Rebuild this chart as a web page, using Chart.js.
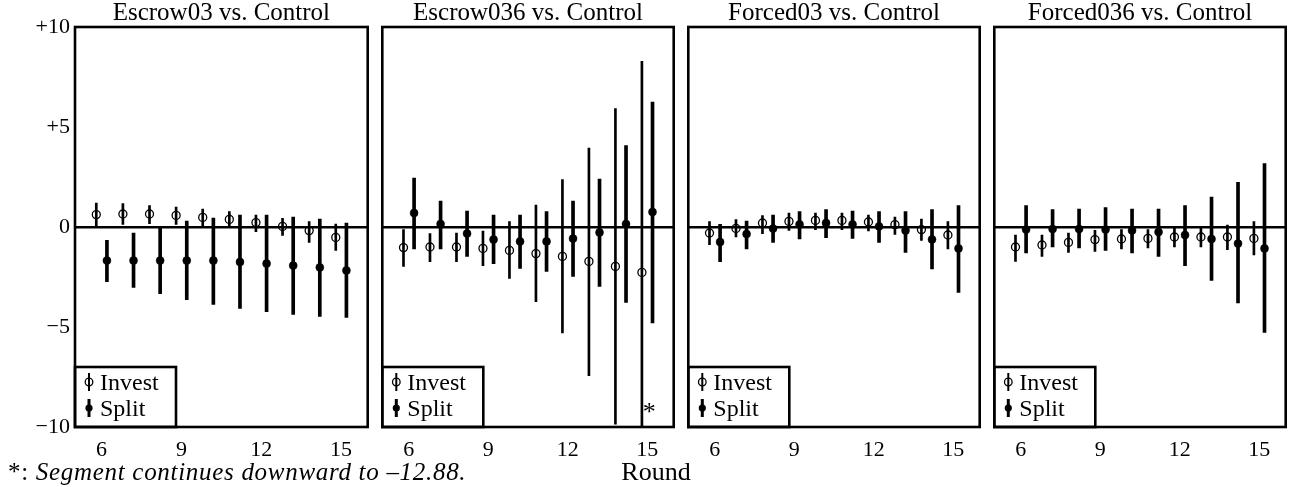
<!DOCTYPE html>
<html>
<head>
<meta charset="utf-8">
<script src="https://cdn.jsdelivr.net/npm/chart.js@4.4.0/dist/chart.umd.min.js"></script>
<style>
  body { margin: 0; background: #fff; }
  #wrap { position: relative; width: 1293px; height: 487px; overflow: hidden; font-family: 'Liberation Serif', serif; color: #000; }
  #wrap canvas { position: absolute; top: 0; }
  #footnote { position: absolute; left: 8px; top: 458px; font-size: 25px; letter-spacing: 0.7px; white-space: nowrap; }
  #xlabel { position: absolute; left: 0; width: 1312px; text-align: center; top: 457px; font-size: 26px; }
</style>
</head>
<body>
<div id="wrap">
  <canvas id="p0" width="373" height="460"></canvas>
  <canvas id="p1" width="302" height="460"></canvas>
  <canvas id="p2" width="302" height="460"></canvas>
  <canvas id="p3" width="302" height="460"></canvas>
  <div id="footnote">*: <i>Segment continues downward to –12.88.</i></div>
  <div id="xlabel">Round</div>
</div>
<script>
// rounds and labels
const rounds = [6, 7, 8, 9, 10, 11, 12, 13, 14, 15];
const xTicks = [6, 9, 12, 15];
const seriesNames = ['Invest', 'Split'];
const panelTitles = ['Escrow03 vs. Control', 'Escrow036 vs. Control', 'Forced03 vs. Control', 'Forced036 vs. Control'];

// Escrow03 vs. Control
const escrow03InvestMean = [0.62, 0.65, 0.65, 0.58, 0.48, 0.38, 0.22, 0.03, -0.18, -0.52];
const escrow03InvestLow  = [0.07, 0.13, 0.17, 0.13, 0.0, 0.0, -0.23, -0.42, -0.77, -1.17];
const escrow03InvestHigh = [1.2, 1.17, 1.07, 1.0, 0.9, 0.77, 0.6, 0.43, 0.27, 0.15];
const escrow03SplitMean  = [-1.68, -1.68, -1.68, -1.68, -1.68, -1.75, -1.83, -1.93, -2.02, -2.17];
const escrow03SplitLow   = [-2.73, -3.02, -3.33, -3.63, -3.87, -4.07, -4.23, -4.37, -4.47, -4.52];
const escrow03SplitHigh  = [-0.67, -0.3, 0.0, 0.3, 0.45, 0.6, 0.6, 0.5, 0.4, 0.2];

// Escrow036 vs. Control
const escrow036InvestMean = [-1.03, -1.0, -1.0, -1.07, -1.17, -1.33, -1.47, -1.72, -1.97, -2.27];
const escrow036InvestLow  = [-1.97, -1.73, -1.73, -1.93, -2.57, -3.73, -5.3, -7.43, -9.86, -12.88];
const escrow036InvestHigh = [-0.13, -0.33, -0.3, -0.2, 0.27, 1.1, 2.37, 3.95, 5.92, 8.28];
const escrow036SplitMean  = [0.7, 0.15, -0.33, -0.63, -0.72, -0.72, -0.58, -0.27, 0.15, 0.75];
const escrow036SplitLow   = [-1.1, -1.1, -1.47, -1.83, -2.07, -2.22, -2.47, -2.97, -3.77, -4.8];
const escrow036SplitHigh  = [2.45, 1.3, 0.8, 0.6, 0.6, 0.77, 1.3, 2.4, 4.07, 6.25];

// Forced03 vs. Control
const forced03InvestMean = [-0.3, -0.07, 0.2, 0.28, 0.33, 0.33, 0.25, 0.12, -0.13, -0.4];
const forced03InvestLow  = [-0.88, -0.5, -0.33, -0.17, -0.13, -0.13, -0.2, -0.37, -0.67, -1.1];
const forced03InvestHigh = [0.27, 0.37, 0.57, 0.7, 0.7, 0.7, 0.6, 0.5, 0.4, 0.27];
const forced03SplitMean  = [-0.75, -0.35, -0.08, 0.13, 0.2, 0.13, 0.03, -0.18, -0.62, -1.07];
const forced03SplitLow   = [-1.73, -1.1, -0.77, -0.6, -0.53, -0.57, -0.77, -1.27, -2.1, -3.27];
const forced03SplitHigh  = [0.13, 0.3, 0.6, 0.77, 0.87, 0.8, 0.77, 0.77, 0.87, 1.07];

// Forced036 vs. Control
const forced036InvestMean = [-1.0, -0.9, -0.77, -0.63, -0.6, -0.57, -0.5, -0.5, -0.5, -0.57];
const forced036InvestLow  = [-1.72, -1.47, -1.27, -1.22, -1.1, -1.05, -1.0, -1.0, -1.13, -1.4];
const forced036InvestHigh = [-0.4, -0.4, -0.3, -0.17, -0.13, -0.13, -0.07, -0.07, 0.1, 0.27];
const forced036SplitMean  = [-0.13, -0.1, -0.1, -0.13, -0.17, -0.25, -0.4, -0.6, -0.83, -1.07];
const forced036SplitLow   = [-1.3, -1.0, -1.05, -1.17, -1.3, -1.47, -1.93, -2.67, -3.8, -5.27];
const forced036SplitHigh  = [1.07, 0.87, 0.9, 0.97, 0.9, 0.9, 1.07, 1.5, 2.23, 3.17];

const panels = [
  { invest: [escrow03InvestMean, escrow03InvestLow, escrow03InvestHigh], split: [escrow03SplitMean, escrow03SplitLow, escrow03SplitHigh] },
  { invest: [escrow036InvestMean, escrow036InvestLow, escrow036InvestHigh], split: [escrow036SplitMean, escrow036SplitLow, escrow036SplitHigh], note: { x: 15.08, y: -9.1, text: '*' } },
  { invest: [forced03InvestMean, forced03InvestLow, forced03InvestHigh], split: [forced03SplitMean, forced03SplitLow, forced03SplitHigh] },
  { invest: [forced036InvestMean, forced036InvestLow, forced036InvestHigh], split: [forced036SplitMean, forced036SplitLow, forced036SplitHigh] },
];

const FONT = "'Liberation Serif', serif";
const DODGE = 0.2;
const frameLefts = [75, 381, 687, 993]; // left edge of each plot box

function fmtY(v) {
  if (v > 0) return '+' + v;
  if (v < 0) return '\u2212' + Math.abs(v);
  return '0';
}

// legend box in lower-left corner + box frame + footnote mark
const panelDecor = {
  id: 'panelDecor',
  afterDatasetsDraw(chart, args, opts) {
    const { ctx, chartArea: a } = chart;
    ctx.save();
    // legend
    const bx = a.left, by = a.bottom - 60, bw = 101, bh = 60;
    ctx.fillStyle = '#fff';
    ctx.fillRect(bx, by, bw, bh);
    ctx.lineWidth = 2.6;
    ctx.strokeStyle = '#000';
    ctx.strokeRect(bx, by, bw, bh);
    ctx.font = '24px ' + FONT;
    ctx.fillStyle = '#000';
    ctx.textBaseline = 'alphabetic';
    seriesNames.forEach((name, i) => {
      const cy = by + 15 + i * 26;
      const sx = bx + 14;
      ctx.lineWidth = i === 0 ? 2 : 3;
      ctx.beginPath();
      ctx.moveTo(sx, cy - 9);
      ctx.lineTo(sx, cy + 9);
      ctx.stroke();
      ctx.beginPath();
      ctx.arc(sx, cy, i === 0 ? 3.8 : 3.6, 0, Math.PI * 2);
      if (i === 0) { ctx.lineWidth = 1.3; ctx.stroke(); } else { ctx.fill(); }
      ctx.fillText(name, bx + 25, cy + 8);
    });
    // footnote mark
    if (opts.note) {
      const xs = chart.scales.x, ys = chart.scales.y;
      ctx.font = '26px ' + FONT;
      ctx.textAlign = 'center';
      ctx.textBaseline = 'middle';
      ctx.fillText(opts.note.text, xs.getPixelForValue(opts.note.x), ys.getPixelForValue(opts.note.y) + 4);
    }
    // frame
    ctx.lineWidth = 2.6;
    ctx.strokeRect(a.left, a.top, a.width, a.height);
    ctx.restore();
  }
};

panels.forEach((p, i) => {
  const first = i === 0;
  const canvas = document.getElementById('p' + i);
  canvas.style.left = (first ? 0 : frameLefts[i] - 4) + 'px';

  const bars = (stats, off, thick) => ({
    type: 'bar',
    data: rounds.map((r, k) => ({ x: r + off, y: [stats[1][k], stats[2][k]] })),
    backgroundColor: '#000',
    borderWidth: 0,
    barThickness: thick,
    grouped: false,
    order: 2,
  });
  const points = (stats, off, hollow) => ({
    type: 'scatter',
    data: rounds.map((r, k) => ({ x: r + off, y: stats[0][k] })),
    pointRadius: 4,
    pointHoverRadius: 4,
    pointBackgroundColor: hollow ? 'rgba(0,0,0,0)' : '#000',
    pointBorderColor: '#000',
    pointBorderWidth: hollow ? 1.3 : 0.5,
    showLine: false,
    order: 1,
  });

  new Chart(canvas, {
    type: 'scatter',
    data: {
      datasets: [
        bars(p.invest, -DODGE, 2),
        bars(p.split, DODGE, 3),
        points(p.invest, -DODGE, true),
        points(p.split, DODGE, false),
      ]
    },
    options: {
      responsive: false,
      animation: false,
      events: [],
      layout: { padding: { left: first ? 0 : 4, right: 4, top: 0, bottom: 0 } },
      plugins: {
        legend: { display: false },
        tooltip: { enabled: false },
        title: {
          display: true,
          text: panelTitles[i],
          fullSize: false,
          color: '#000',
          font: { family: FONT, size: 25, weight: 'normal', lineHeight: 1.0 },
          padding: { top: 1, bottom: 1 },
        },
        panelDecor: { note: p.note },
      },
      scales: {
        x: {
          type: 'linear',
          min: 5, max: 16,
          offset: false,
          grid: { display: false, offset: false },
          border: { display: false },
          afterBuildTicks: s => { s.ticks = xTicks.map(v => ({ value: v })); },
          afterFit: s => { s.height = 33; },
          ticks: { color: '#000', padding: 2, maxRotation: 0, font: { family: FONT, size: 22 } },
        },
        y: {
          min: -10, max: 10,
          grid: {
            drawTicks: false,
            color: c => c.tick && c.tick.value === 0 ? '#000' : 'rgba(0,0,0,0)',
            lineWidth: 2.6,
          },
          border: { display: false },
          afterFit: s => { s.width = first ? 75 : 0; },
          ticks: {
            display: first,
            stepSize: 5,
            padding: 5,
            color: '#000',
            font: { family: FONT, size: 22 },
            callback: v => fmtY(v),
          },
        },
      },
    },
    plugins: [panelDecor],
  });
});
</script>
</body>
</html>
